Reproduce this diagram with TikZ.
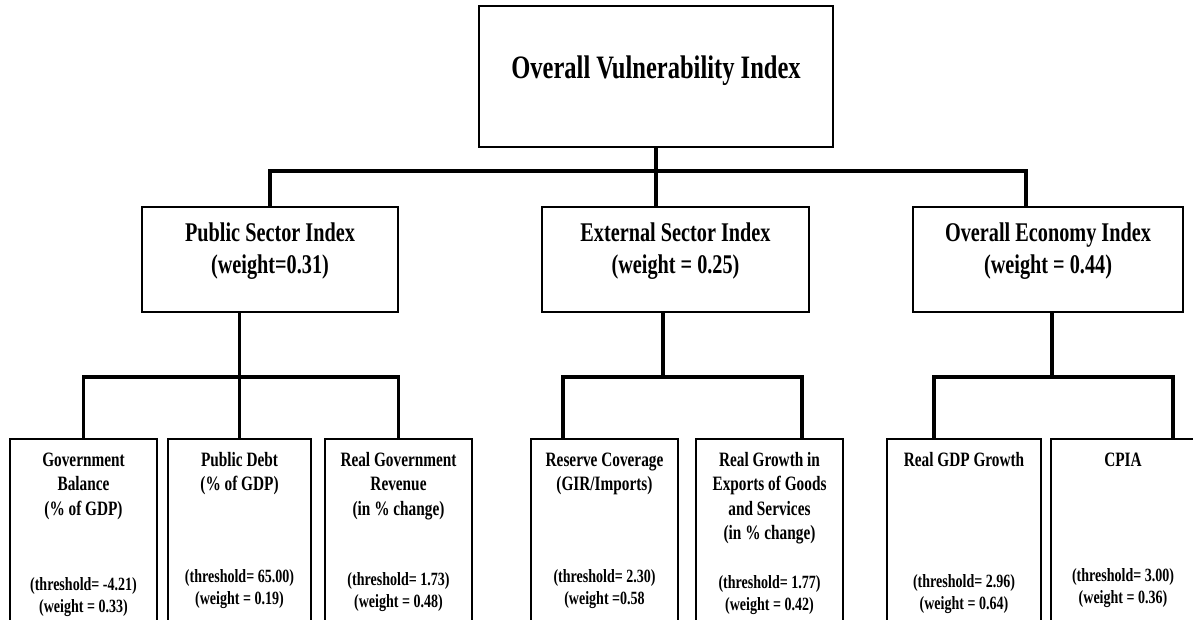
\documentclass[tikz,border=0pt]{standalone}
\usepackage{fontspec}
\setmainfont{Liberation Serif}
\usepackage{graphicx}
\usetikzlibrary{positioning,calc}

% condensed centred block of lines
\newcommand{\sqz}[1]{\scalebox{0.75}[1]{\begin{tabular}[t]{@{}c@{}}#1\end{tabular}}}

\begin{document}
\begin{tikzpicture}[x=1pt,y=-1pt,
  caja/.style={rectangle, draw, line width=1.5pt, inner sep=0pt},
  hoja/.style={caja, minimum height=200pt},
  enlace/.style={line width=3.6pt},
  txtuno/.style={anchor=base, inner sep=0pt, font=\bfseries\fontsize{32.7}{39}\selectfont},
  txtdos/.style={anchor=base, inner sep=0pt, font=\bfseries\fontsize{27}{32}\selectfont},
  txttres/.style={anchor=base, inner sep=0pt, font=\bfseries\fontsize{20.4}{24.5}\selectfont},
  txtcuatro/.style={anchor=base, inner sep=0pt, font=\bfseries\fontsize{18.7}{22}\selectfont}
]
\useasboundingbox (0,0) rectangle (1193,620);
\clip (0,0) rectangle (1193,620);

% boxes
\node[caja, minimum width=354pt, minimum height=141pt] (ovi) at (656,76.5) {};
\node[caja, minimum width=256pt, minimum height=105pt] (ps) at (270,259.5) {};
\node[caja, minimum width=267pt, minimum height=105pt] (es) at (675.5,259.5) {};
\node[caja, minimum width=270pt, minimum height=105pt] (oe) at (1048,259.5) {};
\foreach \nm/\cx/\bw in {gb/83.5/147, pd/239.5/143, rgr/398.5/147,
  rc/604.5/147, rge/769.5/147, gdp/964/154, cpia/1123/144}
  \node[hoja, minimum width=\bw pt] (\nm) at (\cx,539) {};

% texts
\node[txtuno] at ([yshift=-73pt]ovi.north) {\sqz{Overall Vulnerability Index}};
\node[txtdos] at ([yshift=-35pt]ps.north) {\sqz{Public Sector Index\\(weight=0.31)}};
\node[txtdos] at ([yshift=-35pt]es.north) {\sqz{External Sector Index\\(weight = 0.25)}};
\node[txtdos] at ([yshift=-35pt]oe.north) {\sqz{Overall Economy Index\\(weight = 0.44)}};

\node[txttres] at ([yshift=-28pt]gb.north) {\sqz{Government\\Balance\\(\% of GDP)}};
\node[txttres] at ([yshift=-28pt]pd.north) {\sqz{Public Debt\\(\% of GDP)}};
\node[txttres] at ([yshift=-28pt]rgr.north) {\sqz{Real Government\\Revenue\\(in \% change)}};
\node[txttres] at ([yshift=-28pt]rc.north) {\sqz{Reserve Coverage\\(GIR/Imports)}};
\node[txttres] at ([yshift=-28pt]rge.north) {\sqz{Real Growth in\\Exports of Goods\\and Services\\(in \% change)}};
\node[txttres] at ([yshift=-28pt]gdp.north) {\sqz{Real GDP Growth}};
\node[txttres] at ([yshift=-28pt]cpia.north) {\sqz{CPIA}};

\node[txtcuatro] at ([yshift=-152pt]gb.north) {\sqz{(threshold= -4.21)\\(weight = 0.33)}};
\node[txtcuatro] at ([yshift=-144pt]pd.north) {\sqz{(threshold= 65.00)\\(weight = 0.19)}};
\node[txtcuatro] at ([yshift=-147pt]rgr.north) {\sqz{(threshold= 1.73)\\(weight = 0.48)}};
\node[txtcuatro] at ([yshift=-144pt]rc.north) {\sqz{(threshold= 2.30)\\(weight =0.58}};
\node[txtcuatro] at ([yshift=-150pt]rge.north) {\sqz{(threshold= 1.77)\\(weight = 0.42)}};
\node[txtcuatro] at ([yshift=-149pt]gdp.north) {\sqz{(threshold= 2.96)\\(weight = 0.64)}};
\node[txtcuatro] at ([yshift=-143pt]cpia.north) {\sqz{(threshold= 3.00)\\(weight = 0.36)}};

% connectors
\coordinate (bustop) at (656,171);
\coordinate (busps) at (239.5,377);
\coordinate (buses) at (663,377);
\coordinate (buseo) at (1052,377);

\draw[enlace] (ovi.south) -- (es.north -| ovi.south);
\draw[enlace] (ps.north) |- (bustop) -| ([xshift=-22pt]oe.north);

\draw[enlace] (ps.south -| pd.north) -- (pd.north);
\draw[enlace] (gb.north) |- (busps) -| (rgr.north);

\draw[enlace] ([xshift=-12.5pt]es.south) -- (buses);
\draw[enlace] ([xshift=-41.5pt]rc.north) |- (buses) -| ([xshift=32.5pt]rge.north);

\draw[enlace] ([xshift=4pt]oe.south) -- (buseo);
\draw[enlace] ([xshift=-30pt]gdp.north) |- (buseo) -| ([xshift=50pt]cpia.north);
\end{tikzpicture}
\end{document}
